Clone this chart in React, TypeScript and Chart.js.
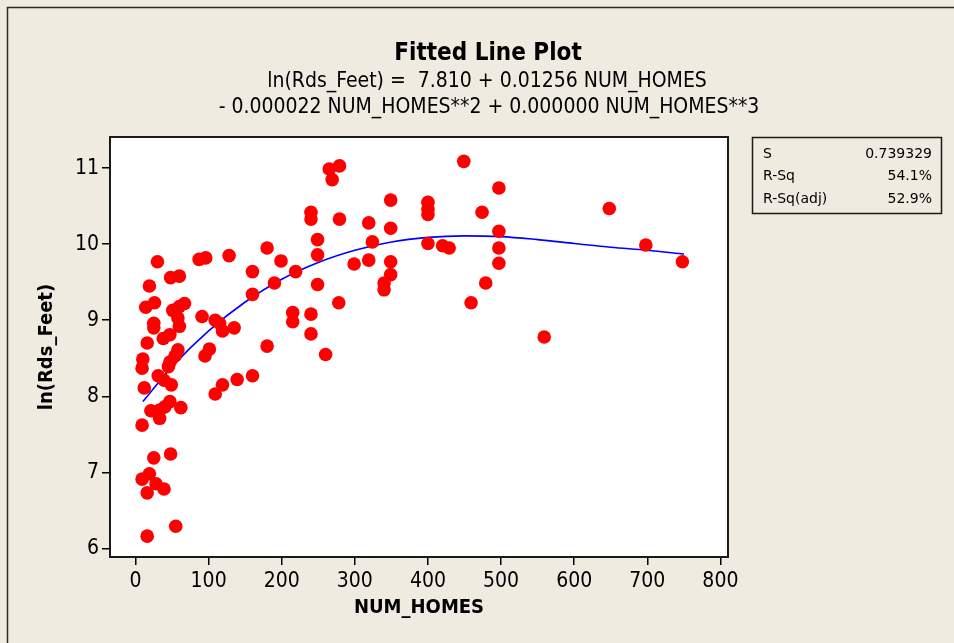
import { useEffect, useRef } from "react";
import { Chart, registerables } from "chart.js";

Chart.register(...registerables);

// ---- Data ----
const homes = [
  30, 87, 96, 128, 180, 199, 160, 219, 190, 160,
  19, 48, 60, 14, 26, 51, 60, 67, 58, 60,
  25, 25, 91, 109, 115, 119, 135, 215, 215, 240,
  240, 47, 38, 16, 180, 58, 54, 47, 45, 10,
  9, 101, 95, 119, 109, 139, 160, 31, 39, 49,
  12, 21, 33, 40, 47, 62, 33, 9, 25, 48,
  9, 19, 16, 28, 39, 55, 16, 260,
  240, 240, 249, 249, 249, 265, 279, 269, 279, 278,
  299, 319, 324, 319, 349, 349, 349, 349, 340, 340,
  400, 400, 400, 400, 420, 429, 449, 474, 479, 459,
  497, 497, 497, 497, 648, 698, 748, 559,
];
const lnFeet = [
  9.77, 9.8, 9.82, 9.85, 9.95, 9.78, 9.64, 9.64, 9.49, 9.34,
  9.45, 9.56, 9.58, 9.17, 9.23, 9.13, 9.18, 9.22, 9.03, 8.92,
  8.96, 8.9, 9.05, 9.0, 8.96, 8.86, 8.9, 9.1, 8.98, 9.08,
  8.82, 8.81, 8.76, 8.7, 8.66, 8.61, 8.53, 8.45, 8.39, 8.49,
  8.37, 8.62, 8.53, 8.15, 8.03, 8.22, 8.27, 8.27, 8.21, 8.15,
  8.11, 7.81, 7.82, 7.86, 7.93, 7.85, 7.71, 7.62, 7.19, 7.24,
  6.91, 6.98, 6.73, 6.85, 6.78, 6.29, 6.16, 8.55,
  10.42, 10.33, 10.06, 9.86, 9.47, 10.99, 11.03, 10.85, 10.33, 9.23,
  9.74, 10.28, 10.03, 9.79, 10.58, 10.21, 9.77, 9.6, 9.49, 9.4,
  10.55, 10.46, 10.39, 10.01, 9.98, 9.95, 11.09, 10.42, 9.49, 9.23,
  10.74, 10.17, 9.95, 9.75, 10.47, 9.99, 9.77, 8.78,
];
// fitted curve
const fitHomes = [10, 50, 100, 150, 200, 250, 300, 350, 400, 450, 500, 550, 600, 650, 700, 750];
const fitLn = [7.93, 8.39, 8.86, 9.24, 9.54, 9.76, 9.92, 10.03, 10.09, 10.11, 10.1, 10.06, 10.01, 9.96, 9.92, 9.87];

const xTickValues = [0, 100, 200, 300, 400, 500, 600, 700, 800];
const yTickValues = [6, 7, 8, 9, 10, 11];

const titleText = "Fitted Line Plot";
const equationLines = [
  "ln(Rds_Feet) =  7.810 + 0.01256 NUM_HOMES",
  "- 0.000022 NUM_HOMES**2 + 0.000000 NUM_HOMES**3",
];
const statLabels = ["S", "R-Sq", "R-Sq(adj)"];
const statValues = ["0.739329", "54.1%", "52.9%"];
const xTitle = "NUM_HOMES";
const yTitle = "ln(Rds_Feet)";

const FONT = "'DejaVu Sans Condensed', 'Liberation Sans Narrow', 'DejaVu Sans', sans-serif";
const BOX_FONT = "'DejaVu Sans', sans-serif";
const BG = "rgb(239,235,225)";

const decorPlugin = {
  id: "decor",
  beforeDraw(chart: any) {
    const ctx = chart.ctx as CanvasRenderingContext2D;
    const { left, top, right, bottom } = chart.chartArea;
    ctx.save();
    ctx.fillStyle = BG;
    ctx.fillRect(0, 0, chart.width, chart.height);
    // outer window border (top + left)
    ctx.strokeStyle = "#2b2b2b";
    ctx.lineWidth = 1.5;
    ctx.beginPath();
    ctx.moveTo(7.5, chart.height);
    ctx.lineTo(7.5, 7.5);
    ctx.lineTo(chart.width, 7.5);
    ctx.stroke();
    // plot area
    ctx.fillStyle = "#ffffff";
    ctx.fillRect(left, top, right - left, bottom - top);

    // titles
    ctx.fillStyle = "#000";
    ctx.textAlign = "center";
    ctx.textBaseline = "middle";
    ctx.font = `bold 24px ${FONT}`;
    ctx.fillText(titleText, 488, 54);
    ctx.font = `21px ${FONT}`;
    ctx.fillText(equationLines[0], 487, 82);
    ctx.fillText(equationLines[1], 489, 108);

    // stats box
    ctx.strokeStyle = "#1a1a1a";
    ctx.lineWidth = 1.5;
    ctx.strokeRect(752.5, 137.5, 189, 76);
    ctx.font = `14px ${BOX_FONT}`;
    const rowsY = [154, 176.5, 199.5];
    statLabels.forEach((lab, i) => {
      ctx.textAlign = "left";
      ctx.fillText(lab, 763, rowsY[i]);
      ctx.textAlign = "right";
      ctx.fillText(statValues[i], 932, rowsY[i]);
    });

    // axis titles
    ctx.textAlign = "center";
    ctx.font = `bold 20px ${FONT}`;
    ctx.fillText(xTitle, (left + right) / 2, 608);
    ctx.save();
    ctx.translate(47, (top + bottom) / 2);
    ctx.rotate(-Math.PI / 2);
    ctx.fillText(yTitle, 0, 0);
    ctx.restore();
    ctx.restore();
  },
  afterDatasetsDraw(chart: any) {
    const ctx = chart.ctx as CanvasRenderingContext2D;
    const { left, top, right, bottom } = chart.chartArea;
    ctx.save();
    ctx.strokeStyle = "#1a1a1a";
    ctx.lineWidth = 2;
    ctx.strokeRect(left, top, right - left, bottom - top);
    ctx.restore();
  },
};

export default function App() {
  const canvasRef = useRef<HTMLCanvasElement | null>(null);

  useEffect(() => {
    if (!canvasRef.current) return;
    const chart = new Chart(canvasRef.current, {
      type: "scatter",
      data: {
        datasets: [
          {
            label: "ln(Rds_Feet)",
            data: homes.map((x, i) => ({ x, y: lnFeet[i] })),
            backgroundColor: "#ff0000",
            borderColor: "#ff0000",
            borderWidth: 0,
            pointRadius: 6.8,
            pointHoverRadius: 6.8,
          },
          {
            label: "Fit",
            data: fitHomes.map((x, i) => ({ x, y: fitLn[i] })),
            showLine: true,
            borderColor: "#0000ff",
            borderWidth: 1.6,
            pointRadius: 0,
            cubicInterpolationMode: "monotone",
            fill: false,
          } as any,
        ],
      },
      options: {
        animation: false,
        responsive: false,
        maintainAspectRatio: false,
        layout: { padding: { top: 137, right: 226, left: 0, bottom: 0 } },
        plugins: {
          legend: { display: false },
          tooltip: { enabled: false },
          title: { display: false },
        },
        scales: {
          x: {
            type: "linear",
            min: -34.9,
            max: 810.4,
            afterFit: (s: any) => {
              s.height = 86;
            },
            afterBuildTicks: (s: any) => {
              s.ticks = xTickValues.map((v) => ({ value: v }));
            },
            grid: {
              drawOnChartArea: false,
              drawTicks: true,
              tickLength: 8,
              color: "#000",
              lineWidth: 1.5,
            },
            border: { display: false },
            ticks: {
              color: "#000",
              font: { family: FONT, size: 21 },
              padding: 4,
              maxRotation: 0,
              autoSkip: false,
            },
          },
          y: {
            type: "linear",
            min: 5.886,
            max: 11.41,
            afterFit: (s: any) => {
              s.width = 110;
            },
            afterBuildTicks: (s: any) => {
              s.ticks = yTickValues.map((v) => ({ value: v }));
            },
            grid: {
              drawOnChartArea: false,
              drawTicks: true,
              tickLength: 8,
              color: "#000",
              lineWidth: 1.5,
            },
            border: { display: false },
            ticks: {
              color: "#000",
              font: { family: FONT, size: 21 },
              padding: 3,
              autoSkip: false,
            },
          },
        },
      },
      plugins: [decorPlugin],
    });
    return () => chart.destroy();
  }, []);

  return (
    <div style={{ position: "fixed", left: 0, top: 0, width: 954, height: 643 }}>
      <canvas ref={canvasRef} width={954} height={643} style={{ display: "block" }} />
    </div>
  );
}
